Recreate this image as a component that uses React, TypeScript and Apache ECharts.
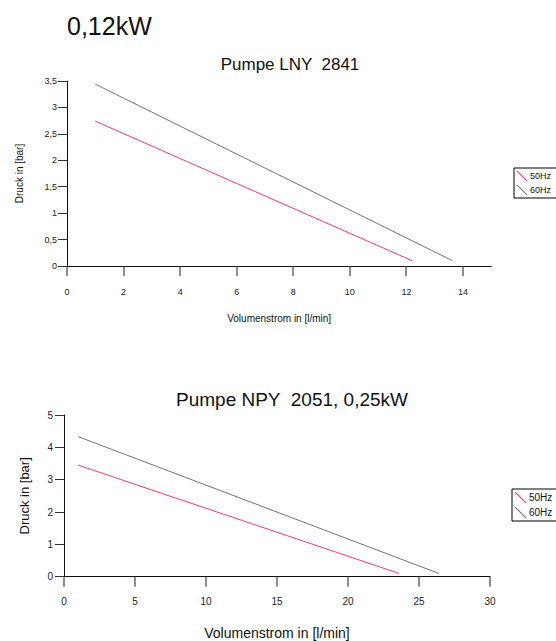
import React, { useEffect, useRef } from "react";
import * as echarts from "echarts";

// Top chart: Pumpe LNY 2841, 0,12kW
const topFlow50 = [1, 12.2];
const topPress50 = [2.74, 0.1];
const topFlow60 = [1, 13.63];
const topPress60 = [3.44, 0.1];
const topXTicks = [0, 2, 4, 6, 8, 10, 12, 14];

// Bottom chart: Pumpe NPY 2051, 0,25kW
const botFlow50 = [1, 23.6];
const botPress50 = [3.45, 0.1];
const botFlow60 = [1, 26.4];
const botPress60 = [4.33, 0.1];
const botXTicks = [0, 5, 10, 15, 20, 25, 30];

const seriesNames = ["50Hz", "60Hz"];
const colors = ["#ff3a6a", "#737373"];
const FONT = "Liberation Sans, Arial, sans-serif";

const pairs = (xs: number[], ys: number[]) => xs.map((x, i) => [x, ys[i]]);
const comma = (v: number) => String(v).replace(".", ",");
const icon = "path://M0,0L0.7,0L10,9.3L10,10L9.3,10L0,0.7Z";

const tickRenderer = (_params: any, api: any) => {
  const p = api.coord([api.value(0), api.value(1)]);
  return {
    type: "rect",
    z2: 100,
    shape: { x: Math.round(p[0]) - 0.6, y: p[1], width: 1.2, height: 10 },
    style: { fill: "#444" },
  };
};

export default function App() {
  const ref = useRef<HTMLDivElement>(null);
  useEffect(() => {
    if (!ref.current) return;
    const chart = echarts.init(ref.current, undefined, { renderer: "svg" });
    const axisLine = { show: true, onZero: false, lineStyle: { color: "#111", width: 1 } };
    const axisTickY = { show: true, inside: false, length: 9, lineStyle: { color: "#333", width: 1 } };
    chart.setOption({
      animation: false,
      textStyle: { fontFamily: FONT },
      title: [
        { text: "0,12kW", left: 62, top: 8, textStyle: { fontSize: 25, fontWeight: "normal", color: "#111", fontFamily: FONT } },
        { text: "Pumpe LNY  2841", left: 285, top: 51, textAlign: "center", textStyle: { fontSize: 17, fontWeight: "normal", color: "#111", fontFamily: FONT } },
        { text: "Pumpe NPY  2051, 0,25kW", left: 287, top: 385, textAlign: "center", textStyle: { fontSize: 19, fontWeight: "normal", color: "#111", fontFamily: FONT } },
      ],
      legend: [
        {
          data: seriesNames, orient: "vertical", left: 514, top: 168,
          borderColor: "#000", borderWidth: 1, padding: [3, 40, 3, 3],
          itemWidth: 10, itemHeight: 10, itemGap: 4, icon,
          textStyle: { fontSize: 9, color: "#111", padding: [0, 0, 0, -2] },
        },
        {
          data: seriesNames.map((n) => ({ name: n + " " })), orient: "vertical", left: 512, top: 489,
          borderColor: "#000", borderWidth: 1, padding: [3, 40, 3, 3],
          itemWidth: 11, itemHeight: 11, itemGap: 4, icon,
          formatter: (n: string) => n.trim(),
          textStyle: { fontSize: 10, color: "#111", padding: [0, 0, 0, -2] },
        },
      ],
      grid: [
        { left: 67, top: 81, width: 424.3, height: 185 },
        { left: 64, top: 415, width: 426, height: 161.7 },
      ],
      xAxis: [
        {
          gridIndex: 0, type: "value", min: 0, max: 15, interval: 2, position: "bottom",
          axisLine, axisTick: { show: false }, splitLine: { show: false },
          axisLabel: { customValues: topXTicks, fontSize: 9, color: "#222", margin: 21 },
          name: "Volumenstrom in [l/min]", nameLocation: "middle", nameGap: 47,
          nameTextStyle: { fontSize: 10, color: "#111" },
        },
        {
          gridIndex: 1, type: "value", min: 0, max: 30, interval: 5, position: "bottom",
          axisLine, axisTick: { show: false }, splitLine: { show: false },
          axisLabel: { fontSize: 10, color: "#222", margin: 20 },
          name: "Volumenstrom in [l/min]", nameLocation: "middle", nameGap: 49,
          nameTextStyle: { fontSize: 14, color: "#111" },
        },
      ],
      yAxis: [
        {
          gridIndex: 0, type: "value", min: 0, max: 3.5, interval: 0.5,
          axisLine, axisTick: axisTickY, splitLine: { show: false },
          axisLabel: { fontSize: 9, color: "#222", margin: 10, formatter: comma },
          name: "Druck in [bar]", nameLocation: "middle", nameGap: 43,
          nameTextStyle: { fontSize: 10, color: "#111" },
        },
        {
          gridIndex: 1, type: "value", min: 0, max: 5, interval: 1,
          axisLine, axisTick: axisTickY, splitLine: { show: false },
          axisLabel: { fontSize: 10, color: "#222", margin: 11, formatter: comma },
          name: "Druck in [bar]", nameLocation: "middle", nameGap: 33,
          nameTextStyle: { fontSize: 13, color: "#111" },
        },
      ],
      series: [
        { name: "50Hz", type: "line", xAxisIndex: 0, yAxisIndex: 0, data: pairs(topFlow50, topPress50), showSymbol: false, symbol: "none", color: colors[0], lineStyle: { width: 1, color: colors[0] } },
        { name: "60Hz", type: "line", xAxisIndex: 0, yAxisIndex: 0, data: pairs(topFlow60, topPress60), showSymbol: false, symbol: "none", color: colors[1], lineStyle: { width: 1, color: colors[1] } },
        { name: "50Hz ", type: "line", xAxisIndex: 1, yAxisIndex: 1, data: pairs(botFlow50, botPress50), showSymbol: false, symbol: "none", color: colors[0], lineStyle: { width: 1, color: colors[0] } },
        { name: "60Hz ", type: "line", xAxisIndex: 1, yAxisIndex: 1, data: pairs(botFlow60, botPress60), showSymbol: false, symbol: "none", color: colors[1], lineStyle: { width: 1, color: colors[1] } },
        { name: "ticksTop", type: "custom", z: 50, xAxisIndex: 0, yAxisIndex: 0, silent: true, clip: false, data: topXTicks.map((v) => [v, 0]), encode: { x: 0, y: 1 }, renderItem: tickRenderer },
        { name: "ticksBottom", type: "custom", z: 50, xAxisIndex: 1, yAxisIndex: 1, silent: true, clip: false, data: botXTicks.map((v) => [v, 0]), encode: { x: 0, y: 1 }, renderItem: tickRenderer },
      ],
    });
    return () => chart.dispose();
  }, []);
  return (
    <div
      ref={ref}
      style={{ position: "absolute", left: 0, top: 0, width: 556, height: 641, background: "#fff" }}
    />
  );
}
